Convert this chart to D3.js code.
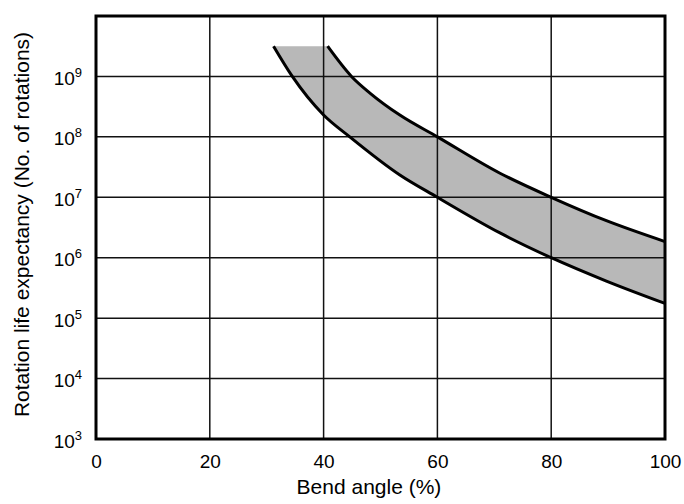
<!DOCTYPE html>
<html>
<head>
<meta charset="utf-8">
<script src="https://cdn.jsdelivr.net/npm/d3@7"></script>
<style>
  html, body { margin: 0; padding: 0; background: #fff; }
  svg { display: block; }
  text { font-family: "Liberation Sans", Arial, Helvetica, sans-serif; fill: #000; }
</style>
</head>
<body>
<svg id="chart" width="684" height="504"></svg>
<script>
// ---- data ----
const xTicks = [0, 20, 40, 60, 80, 100];
const yTickExponents = [3, 4, 5, 6, 7, 8, 9];
const xGrid = [20, 40, 60, 80];
const yGrid = [1e4, 1e5, 1e6, 1e7, 1e8, 1e9];

// upper boundary of the band (bend angle %, rotations)
const upperX = [40.7, 44.9, 48.2, 53.4, 60, 71, 80, 89.7, 100];
const upperY = [3.16e9, 1e9, 5.25e8, 2.29e8, 1e8, 2.5e7, 1e7, 4.1e6, 1.85e6];
// lower boundary of the band
const lowerX = [31.2, 34.5, 40, 44.6, 53.4, 60, 71, 80, 89.7, 100];
const lowerY = [3.16e9, 1e9, 2.3e8, 1e8, 2.34e7, 1e7, 2.57e6, 1e6, 4.1e5, 1.75e5];

const xLabel = "Bend angle (%)";
const yLabel = "Rotation life expectancy (No. of rotations)";

// ---- layout ----
const pLeft = 96, pRight = 665, pTop = 16, pBottom = 439;
const svg = d3.select("#chart");

const x = d3.scaleLinear().domain([0, 100]).range([pLeft, pRight]);
const y = d3.scaleLog().domain([1e3, 1e10]).range([pBottom, pTop]);

const upper = upperX.map((v, i) => [v, upperY[i]]);
const lower = lowerX.map((v, i) => [v, lowerY[i]]);

const line = d3.line().x(d => x(d[0])).y(d => y(d[1])).curve(d3.curveMonotoneX);

// band fill
const upperD = line(upper);
const lowerRevD = line(lower.slice().reverse()).replace(/^M/, "L");
svg.append("path")
  .attr("d", upperD + lowerRevD + "Z")
  .attr("fill", "#b8b8b8")
  .attr("stroke", "none");

// grid
const g = svg.append("g");
g.selectAll(".vg").data(xGrid).enter().append("line")
  .attr("x1", d => x(d)).attr("x2", d => x(d))
  .attr("y1", pTop).attr("y2", pBottom)
  .attr("stroke", "#111").attr("stroke-width", 1.5);
g.selectAll(".hg").data(yGrid).enter().append("line")
  .attr("x1", pLeft).attr("x2", pRight)
  .attr("y1", d => y(d)).attr("y2", d => y(d))
  .attr("stroke", "#111").attr("stroke-width", 1.5);

// curves
svg.append("path").attr("d", line(upper)).attr("fill", "none")
  .attr("stroke", "#000").attr("stroke-width", 3);
svg.append("path").attr("d", line(lower)).attr("fill", "none")
  .attr("stroke", "#000").attr("stroke-width", 3);

// frame
svg.append("rect")
  .attr("x", pLeft).attr("y", pTop)
  .attr("width", pRight - pLeft).attr("height", pBottom - pTop)
  .attr("fill", "none").attr("stroke", "#000").attr("stroke-width", 3);

// x axis ticks
const xAxis = svg.append("g")
  .attr("transform", `translate(0,${pBottom})`)
  .call(d3.axisBottom(x).tickValues(xTicks).tickSize(0).tickPadding(16).tickFormat(d3.format("d")));
xAxis.select(".domain").remove();
xAxis.selectAll("text").style("font-size", "19px")
  .style("font-family", "'Liberation Sans', Arial, sans-serif").attr("fill", "#000");

// y axis ticks with superscripts
const yAxis = svg.append("g").attr("transform", `translate(${pLeft},0)`)
  .call(d3.axisLeft(y).tickValues(yTickExponents.map(e => Math.pow(10, e))).tickSize(0).tickFormat(""));
yAxis.select(".domain").remove();
yAxis.selectAll(".tick").each(function(d) {
  const e = Math.round(Math.log10(d));
  const t = d3.select(this).append("text")
    .attr("x", -14).attr("y", 8)
    .attr("text-anchor", "end")
    .style("font-size", "19px")
    .style("font-family", "'Liberation Sans', Arial, sans-serif")
    .attr("fill", "#000");
  t.append("tspan").text("10");
  t.append("tspan").attr("dy", -8).style("font-size", "13px").text(e);
});

// axis titles
svg.append("text")
  .attr("x", 369).attr("y", 494)
  .attr("text-anchor", "middle")
  .style("font-size", "21px")
  .text(xLabel);

svg.append("text")
  .attr("transform", `translate(29,${(pTop + pBottom) / 2 - 3}) rotate(-90)`)
  .attr("text-anchor", "middle")
  .style("font-size", "21px")
  .text(yLabel);
</script>
</body>
</html>
